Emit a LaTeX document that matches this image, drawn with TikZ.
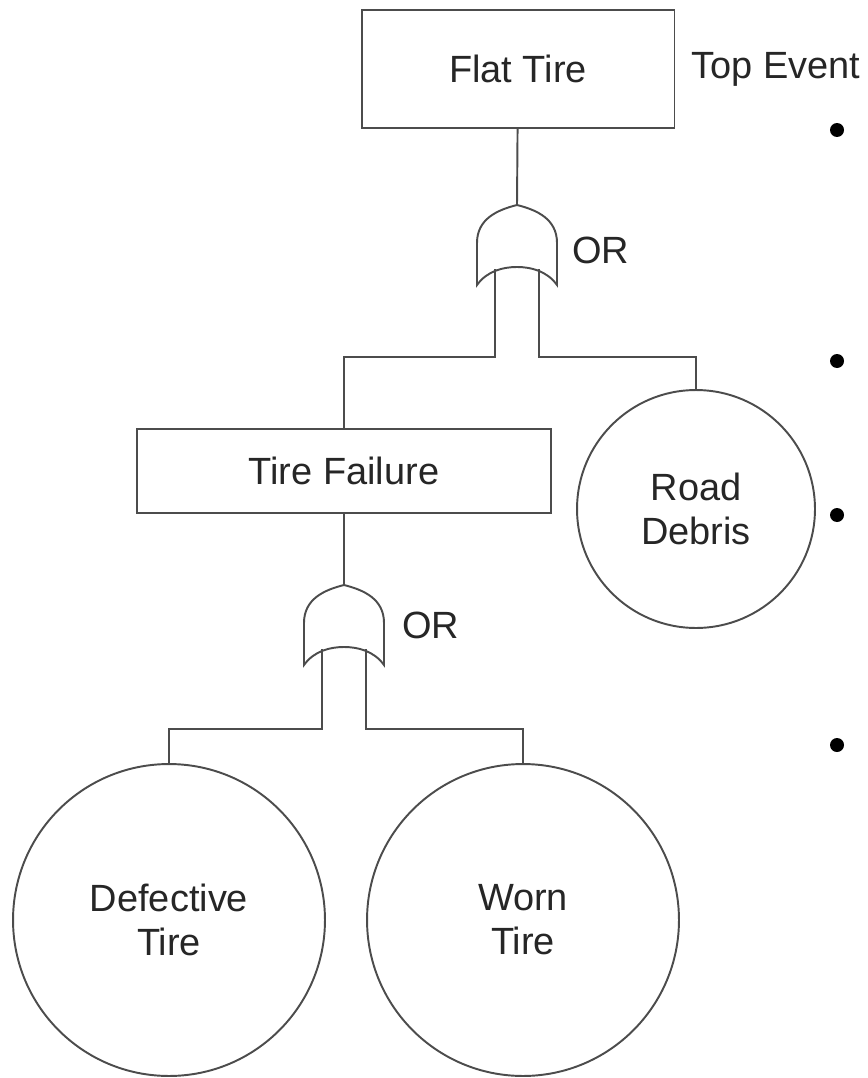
\documentclass[tikz,border=0pt]{standalone}
\usepackage{fontspec}
\setmainfont{Liberation Sans}
\usetikzlibrary{positioning}

\tikzset{
    event/.style={rectangle, draw=black!70, line width=1.1pt, fill=white},
    basic/.style={circle, draw=black!70, line width=1.1pt, fill=white, align=center, inner sep=0pt},
    link/.style={-, draw=black!70, line width=1.1pt},
    dot/.style={circle, fill=black, inner sep=0pt, minimum size=0.28cm},
    orgate/.pic={
        \draw[draw=black!70, line width=1.1pt, fill=white] (-40,80) -- (-40,38)
            .. controls (-40,14) and (-20,5) .. (0,0)
            .. controls (20,5) and (40,14) .. (40,38) -- (40,80)
            .. controls (30,66) and (14,62) .. (0,62)
            .. controls (-14,62) and (-30,66) .. (-40,80) -- cycle;
        \coordinate (-top) at (0,0);
        \coordinate (-in1) at (-22,64);
        \coordinate (-in2) at (22,64);
    }
}

\begin{document}
\begin{tikzpicture}[x=0.02cm, y=-0.02cm, font=\fontsize{21.6}{25}\selectfont, text=black!85]
        \useasboundingbox (0,0) rectangle (867,1078);

        %% Top event
        \node[event, minimum width=6.26cm, minimum height=2.36cm] (ft) at (518,69) {Flat Tire};
        \node[right=0.2cm of ft] (te) {Top Event};

        %% OR gate 1
        \pic (g1) at (517,205) {orgate};
        \node[anchor=west] (or1) at (566,250) {OR};

        %% Intermediate event and basic events
        \node[event, minimum width=8.28cm, minimum height=1.68cm] (tf) at (344,471) {Tire Failure};
        \node[basic, minimum size=4.76cm] (rd) at (696,509) {Road\\Debris};

        %% OR gate 2
        \pic (g2) at (344,585) {orgate};
        \node[anchor=west] (or2) at (396,625) {OR};

        \node[basic, minimum size=6.24cm] (dt) at (169,920) {Defective\\Tire};
        \node[basic, minimum size=6.24cm] (wt) at (523,920) {Worn\\Tire};

        %% Connections
        \draw[link] (ft) -- (g1-top);
        \draw[link] (g1-in1) -- ++(0,88) -| (tf);
        \draw[link] (g1-in2) -- ++(0,88) -| (rd);
        \draw[link] (tf) -- (g2-top);
        \draw[link] (g2-in1) -- ++(0,80) -| (dt);
        \draw[link] (g2-in2) -- ++(0,80) -| (wt);

        %% Bullets
        \foreach \y [count=\i] in {130,361,515,745}
            \node[dot] (b\i) at (837,\y) {};
\end{tikzpicture}
\end{document}
